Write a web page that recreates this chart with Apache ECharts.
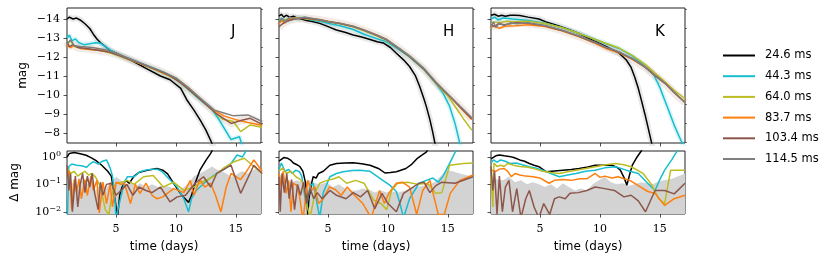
<!DOCTYPE html>
<html><head><meta charset="utf-8">
<script src="https://cdn.jsdelivr.net/npm/echarts@6/dist/echarts.min.js"></script>
<style>html,body{margin:0;padding:0;background:#fff}#c{width:831px;height:265px}</style>
</head><body><div id="c"></div>
<script>
// ---------- data ----------
const seriesNames = ['24.6 ms','44.3 ms','64.0 ms','83.7 ms','103.4 ms','114.5 ms'];
const panelLabels = ['J','H','K'];
const xTicks = [5,10,15];
const magTicks = [-14,-13,-12,-11,-10,-9,-8];
const magMinorTicks = [-14.5,-13.5,-12.5,-11.5,-10.5,-9.5,-8.5,-7.5];
const dTicks = [0.01,0.1,1];

// J band: magnitude vs time
const J_black = [[0.9,-14.0],[1.1,-14.1],[1.4,-14.0],[1.7,-14.05],[2.0,-13.95],[2.4,-13.75],[2.8,-13.5],[3.1,-13.2],[3.4,-12.95],[3.7,-12.75],[4.5,-12.35],[5.5,-12.05],[6.5,-11.75],[7.5,-11.4],[8.7,-11.0],[9.5,-10.8],[10.4,-10.35],[10.9,-9.75],[11.5,-9.2],[12.0,-8.7],[12.5,-8.15],[12.9,-7.6],[13.3,-7.0]];
const J_cyan = [[0.9,-13.0],[1.1,-13.15],[1.3,-12.85],[1.6,-12.95],[1.9,-12.75],[2.3,-12.65],[2.8,-12.7],[3.3,-12.75],[3.7,-12.72],[4.5,-12.37],[5,-12.18],[6,-11.92],[7,-11.67],[8,-11.42],[9,-11.15],[10,-10.82],[11,-10.3],[12,-9.75],[13,-9.25],[13.5,-8.8],[14.6,-7.65],[15.3,-7.8],[15.6,-7.2]];
const J_olive = [[0.9,-12.7],[1.2,-12.85],[1.5,-12.55],[2,-12.5],[3,-12.4],[4,-12.3],[5,-12.12],[6,-11.88],[7,-11.65],[8,-11.4],[9,-11.12],[10,-10.82],[11,-10.33],[12,-9.8],[13,-9.22],[13.9,-8.72],[14.8,-8.6],[15.4,-8.07],[16.2,-8.42],[17.2,-8.3]];
const J_orange = [[0.9,-12.6],[1.2,-12.5],[1.5,-12.6],[2,-12.45],[3,-12.38],[4,-12.35],[5,-12.15],[6,-11.9],[7,-11.66],[8,-11.42],[9,-11.15],[10,-10.85],[11,-10.35],[12,-9.8],[13,-9.25],[14,-8.9],[15,-8.7],[16,-8.55],[17.2,-8.4]];
const J_brown = [[0.9,-12.8],[1.1,-12.55],[1.4,-12.65],[1.8,-12.5],[2.5,-12.45],[3.5,-12.35],[4.5,-12.25],[5.5,-12.02],[6.5,-11.78],[7.5,-11.55],[8.5,-11.3],[9.5,-11.02],[10.5,-10.6],[11.5,-10.05],[12.5,-9.5],[13.4,-9.0],[14.6,-8.5],[15.4,-8.65],[16.2,-8.77],[17.2,-8.45]];
const J_grey = [[0.9,-12.7],[1.2,-12.9],[1.5,-12.6],[2,-12.55],[3,-12.5],[4,-12.4],[5,-12.2],[6,-11.95],[7,-11.7],[8,-11.45],[9,-11.2],[10,-10.9],[11,-10.42],[12,-9.85],[13.2,-9.2],[14,-9.05],[14.8,-8.9],[16,-8.95],[17.2,-8.6]];

// H band
const H_black = [[0.9,-14.15],[1.1,-14.25],[1.3,-14.1],[1.5,-14.2],[1.8,-14.1],[2.1,-14.15],[2.4,-14.05],[2.8,-14.0],[3.2,-13.92],[3.6,-13.88],[4.3,-13.77],[5.0,-13.6],[5.7,-13.42],[6.4,-13.3],[7.1,-13.16],[7.8,-13.05],[8.5,-12.92],[9.1,-12.8],[9.6,-12.74],[10.2,-12.5],[10.7,-12.2],[11.3,-11.85],[11.8,-11.5],[12.3,-11.0],[12.65,-10.45],[13.0,-9.8],[13.2,-9.4],[13.5,-8.7],[13.75,-8.0],[14.0,-7.2]];
const H_cyan = [[0.9,-13.95],[1.2,-14.0],[1.6,-13.9],[2.2,-14.05],[2.9,-14.05],[3.6,-13.95],[4.3,-13.88],[5.0,-13.78],[6.0,-13.65],[7.1,-13.45],[8.0,-13.2],[9.0,-12.98],[9.9,-12.8],[11.0,-12.35],[11.8,-12.0],[13.0,-11.35],[14.0,-10.6],[14.6,-10.1],[15.15,-9.4],[15.6,-8.5],[16.0,-7.45],[16.2,-7.0]];
const H_olive = [[0.9,-13.9],[1.3,-13.95],[1.8,-14.0],[2.5,-14.05],[3.3,-14.0],[4.3,-13.93],[5.0,-13.85],[6.0,-13.75],[7.1,-13.58],[8.0,-13.38],[9.0,-13.13],[9.9,-12.88],[11.0,-12.4],[11.8,-12.02],[13.0,-11.35],[14.0,-10.62],[15.0,-9.95],[15.7,-9.3],[16.3,-8.75],[17.0,-8.15]];
const H_orange = [[0.9,-13.75],[1.1,-13.9],[1.4,-13.8],[1.8,-14.0],[2.4,-14.05],[3.2,-14.05],[4.3,-13.97],[5.0,-13.88],[6.0,-13.78],[7.1,-13.62],[8.0,-13.42],[9.0,-13.17],[9.9,-12.92],[11.0,-12.42],[11.8,-12.05],[13.0,-11.38],[14.0,-10.65],[15.4,-9.76],[16.2,-9.22],[17.0,-8.7]];
const H_brown = [[0.9,-13.6],[1.2,-13.75],[1.6,-13.9],[2.2,-14.0],[3.0,-14.05],[4.3,-13.95],[5.0,-13.86],[6.0,-13.76],[7.1,-13.6],[8.0,-13.4],[9.0,-13.15],[9.9,-12.9],[11.0,-12.4],[11.8,-12.02],[13.0,-11.36],[14.0,-10.64],[15.4,-9.77],[16.2,-9.25],[17.0,-8.75]];
const H_grey = [[0.9,-13.8],[1.1,-14.05],[1.4,-13.85],[1.8,-14.1],[2.3,-14.0],[3.0,-14.1],[4.3,-13.96],[5.0,-13.87],[6.0,-13.77],[7.1,-13.62],[8.0,-13.42],[9.0,-13.17],[9.9,-12.92],[11.0,-12.43],[11.8,-12.06],[13.0,-11.4],[14.0,-10.68],[15.4,-9.8],[16.2,-9.3],[17.0,-8.8]];

// K band
const K_black = [[0.9,-14.2],[1.2,-14.25],[1.5,-14.15],[1.8,-14.2],[2.1,-14.15],[2.5,-14.2],[2.9,-14.2],[3.3,-14.18],[4.0,-14.1],[4.9,-14.0],[5.5,-13.85],[6.5,-13.65],[7.5,-13.42],[8.2,-13.25],[9.5,-12.85],[10.5,-12.55],[11.6,-12.2],[12.2,-11.84],[12.6,-11.45],[12.9,-10.95],[13.2,-10.35],[13.45,-9.74],[13.75,-9.0],[14.0,-8.33],[14.3,-7.5],[14.5,-7.0]];
const K_cyan = [[0.9,-14.0],[1.2,-14.1],[1.5,-13.95],[1.9,-14.05],[2.7,-14.0],[4.0,-13.92],[5.4,-13.78],[6.8,-13.55],[8.2,-13.25],[9.5,-12.95],[10.5,-12.7],[11.6,-12.45],[12.7,-12.05],[13.5,-11.65],[14.0,-11.35],[14.5,-11.05],[15.0,-10.4],[15.4,-9.74],[15.85,-9.0],[16.25,-8.33],[16.8,-7.55],[17.1,-7.2]];
const K_olive = [[0.9,-13.75],[1.2,-13.85],[1.6,-13.8],[2.2,-13.88],[2.7,-13.85],[4.0,-13.88],[5.4,-13.76],[6.8,-13.55],[8.2,-13.25],[9.5,-12.95],[10.5,-12.72],[11.6,-12.47],[12.7,-12.08],[13.8,-11.6],[14.6,-11.15],[15.45,-10.68],[16.2,-10.25],[17.1,-9.8]];
const K_orange = [[0.9,-13.55],[1.2,-13.65],[1.6,-13.5],[2.0,-13.62],[3.0,-13.65],[4.0,-13.7],[5.4,-13.6],[6.8,-13.38],[8.2,-13.08],[9.5,-12.75],[10.5,-12.45],[11.6,-12.22],[12.7,-11.88],[13.8,-11.45],[14.6,-11.02],[15.45,-10.6],[16.2,-10.13],[17.1,-9.62]];
const K_brown = [[0.9,-13.7],[1.2,-13.6],[1.5,-13.75],[2.0,-13.7],[3.0,-13.8],[4.0,-13.78],[5.4,-13.65],[6.8,-13.4],[8.2,-13.1],[9.5,-12.78],[10.5,-12.5],[11.6,-12.25],[12.7,-11.9],[13.8,-11.45],[14.6,-11.02],[15.45,-10.6],[16.2,-10.12],[17.1,-9.6]];
const K_grey = [[0.9,-13.6],[1.1,-13.85],[1.3,-13.55],[1.6,-13.8],[2.0,-13.65],[2.5,-13.8],[3.0,-13.75],[4.0,-13.8],[5.4,-13.66],[6.8,-13.42],[8.2,-13.12],[9.5,-12.8],[10.5,-12.52],[11.6,-12.27],[12.7,-11.92],[13.8,-11.48],[14.6,-11.05],[15.45,-10.62],[16.2,-10.15],[17.1,-9.6]];

// Delta mag (lower panels)
const dJ_black = [[0.9,1.0],[1.1,1.35],[1.5,1.45],[2.0,1.3],[2.5,1.15],[2.9,0.95],[3.3,0.75],[3.8,0.5],[4.3,0.3],[4.6,0.2],[4.8,0.06],[5.0,0.015],[5.1,0.005],[5.3,0.04],[5.5,0.08],[5.8,0.14],[6.1,0.11],[6.5,0.2],[6.9,0.27],[7.6,0.33],[8.4,0.38],[8.9,0.33],[9.3,0.24],[9.8,0.11],[10.2,0.06],[10.6,0.035],[11.05,0.022],[11.3,0.04],[11.6,0.11],[12.0,0.33],[12.5,0.75],[12.9,1.35],[13.2,2.5]];
const dJ_cyan = [[0.92,0.004],[1.05,0.45],[1.3,0.55],[1.7,0.5],[2.1,0.48],[2.55,0.42],[2.8,0.55],[3.1,0.68],[3.5,0.55],[3.8,0.68],[4.2,0.78],[4.5,0.4],[4.7,0.2],[4.9,0.03],[5.0,0.005],[5.2,0.015],[5.4,0.035],[5.7,0.12],[5.95,0.19],[6.5,0.19],[7.0,0.29],[7.6,0.34],[8.4,0.36],[8.8,0.3],[9.25,0.19],[9.7,0.12],[10.1,0.08],[10.65,0.03],[11.05,0.01],[11.3,0.03],[11.7,0.06],[12.0,0.08],[12.6,0.14],[13.4,0.25],[14.0,0.35],[14.6,0.58],[15.1,1.18],[15.55,1.0],[15.9,1.8]];
const dJ_olive = [[0.9,0.4],[1.2,0.25],[1.5,0.3],[1.8,0.2],[2.1,0.25],[2.4,0.3],[2.7,0.22],[3.0,0.25],[3.3,0.18],[3.6,0.1],[3.9,0.03],[4.1,0.012],[4.4,0.008],[4.6,0.03],[4.8,0.08],[5.0,0.11],[5.5,0.12],[5.95,0.14],[6.5,0.1],[7.3,0.19],[8.1,0.21],[8.95,0.08],[9.4,0.1],[9.8,0.12],[10.65,0.06],[11.1,0.07],[11.5,0.08],[12.0,0.11],[13.1,0.19],[14.0,0.4],[14.85,0.67],[15.7,0.9],[16.5,0.45],[17.2,0.25]];
const dJ_orange = [[0.9,0.2],[1.1,0.3],[1.3,0.012],[1.5,0.15],[1.7,0.05],[1.9,0.16],[2.1,0.03],[2.4,0.15],[2.6,0.04],[2.9,0.2],[3.1,0.06],[3.4,0.14],[3.6,0.009],[3.9,0.12],[4.2,0.02],[4.5,0.1],[4.7,0.015],[5.0,0.12],[5.4,0.1],[5.7,0.11],[6.2,0.02],[6.6,0.1],[7.0,0.047],[7.5,0.11],[8.0,0.04],[8.4,0.03],[8.9,0.035],[9.8,0.07],[10.65,0.05],[11.2,0.14],[11.5,0.04],[12.0,0.15],[12.4,0.08],[12.9,0.11],[13.3,0.04],[13.75,0.01],[14.2,0.08],[14.6,0.25],[15.4,0.15],[16.0,0.35],[16.5,0.78],[17.2,0.3]];
const dJ_brown = [[0.9,0.5],[1.05,0.06],[1.2,0.25],[1.35,0.01],[1.6,0.2],[1.8,0.015],[2.0,0.1],[2.2,0.25],[2.4,0.05],[2.6,0.2],[2.8,0.08],[3.0,0.25],[3.2,0.05],[3.5,0.012],[3.7,0.12],[3.9,0.04],[4.2,0.1],[4.6,0.11],[5.0,0.04],[5.4,0.06],[5.9,0.1],[6.4,0.04],[6.9,0.08],[7.5,0.06],[8.0,0.05],[8.7,0.08],[9.5,0.023],[10.1,0.035],[10.8,0.04],[11.6,0.11],[12.3,0.19],[12.9,0.08],[13.4,0.25],[14.0,0.35],[14.6,0.5],[15.4,0.047],[16.5,0.5],[17.2,0.25]];
const dJ_spread = [[0.9,0.25],[1.3,0.12],[1.7,0.08],[2.1,0.14],[2.5,0.1],[2.9,0.12],[3.3,0.06],[3.7,0.1],[4.1,0.06],[4.5,0.12],[5.0,0.19],[5.4,0.14],[5.8,0.1],[6.2,0.12],[6.6,0.08],[7.0,0.11],[7.5,0.08],[8.0,0.1],[8.5,0.08],[9.0,0.09],[9.5,0.08],[10.0,0.06],[10.5,0.07],[11.0,0.1],[11.5,0.2],[12.0,0.25],[12.5,0.33],[13.0,0.45],[13.4,0.35],[13.8,0.3],[14.2,0.25],[14.6,0.19],[15.0,0.22],[15.5,0.3],[16.0,0.25],[16.5,0.35],[17.2,0.4]];

const dH_black = [[0.9,0.7],[1.0,0.8],[1.3,0.95],[1.6,0.9],[1.9,0.75],[2.1,0.6],[2.4,0.52],[2.65,0.44],[2.9,0.3],[3.1,0.12],[3.2,0.06],[3.3,0.008],[3.4,0.03],[3.6,0.1],[3.75,0.19],[4.0,0.17],[4.2,0.25],[4.6,0.3],[5.15,0.5],[5.7,0.58],[6.4,0.6],[7.1,0.62],[7.8,0.57],[8.5,0.5],[9.2,0.38],[9.75,0.26],[10.2,0.27],[10.7,0.29],[11.5,0.38],[12.0,0.55],[12.4,0.85],[12.8,1.15],[13.2,1.5],[13.5,2.5]];
const dH_cyan = [[0.9,0.35],[1.1,0.6],[1.4,0.3],[1.7,0.35],[2.0,0.25],[2.3,0.33],[2.6,0.29],[2.8,0.2],[3.0,0.05],[3.2,0.015],[3.5,0.09],[3.75,0.11],[4.0,0.03],[4.3,0.006],[4.6,0.05],[5.15,0.19],[5.7,0.25],[6.25,0.29],[7.0,0.32],[7.65,0.33],[8.5,0.3],[9.3,0.17],[10.15,0.094],[10.7,0.055],[11.0,0.02],[11.3,0.006],[11.8,0.03],[12.6,0.11],[13.2,0.14],[13.75,0.17],[14.2,0.12],[14.6,0.2],[15.15,0.58],[15.7,1.8]];
const dH_olive = [[0.9,0.3],[1.2,0.4],[1.5,0.25],[1.9,0.3],[2.3,0.19],[2.7,0.15],[2.9,0.11],[3.2,0.02],[3.5,0.006],[3.9,0.05],[4.3,0.11],[4.9,0.14],[5.5,0.16],[5.9,0.19],[6.55,0.11],[7.3,0.14],[8.0,0.11],[8.8,0.027],[9.4,0.02],[9.9,0.012],[10.3,0.06],[10.8,0.11],[11.65,0.12],[12.5,0.1],[13.3,0.11],[14.0,0.047],[14.5,0.05],[15.15,0.5],[16.3,0.58],[17.1,0.6]];
const dH_orange = [[0.9,0.25],[1.1,0.08],[1.25,0.3],[1.5,0.047],[1.7,0.14],[1.9,0.01],[2.1,0.11],[2.4,0.09],[2.6,0.04],[2.9,0.005],[3.3,0.14],[3.6,0.06],[3.9,0.08],[4.2,0.02],[4.6,0.03],[5.1,0.08],[5.6,0.065],[6.1,0.04],[6.6,0.08],[7.2,0.04],[7.9,0.02],[8.6,0.006],[9.3,0.06],[9.7,0.02],[10.1,0.05],[10.7,0.11],[11.2,0.12],[11.8,0.08],[12.4,0.008],[12.9,0.06],[13.5,0.14],[14.2,0.008],[14.7,0.008],[15.2,0.047],[16.0,0.14],[17.1,0.22]];
const dH_brown = [[0.9,0.19],[1.0,0.01],[1.15,0.25],[1.35,0.05],[1.55,0.25],[1.75,0.03],[1.95,0.15],[2.2,0.012],[2.45,0.1],[2.7,0.04],[2.95,0.12],[3.2,0.02],[3.5,0.07],[3.8,0.03],[4.1,0.05],[4.5,0.03],[5.15,0.06],[5.7,0.04],[6.5,0.03],[7.1,0.05],[7.7,0.035],[8.3,0.06],[8.9,0.013],[9.5,0.047],[10.0,0.02],[10.7,0.01],[11.3,0.047],[12.1,0.08],[12.6,0.11],[13.0,0.12],[13.5,0.05],[14.0,0.09],[14.5,0.12],[15.6,0.11],[17.1,0.19]];
const dH_spread = [[0.9,0.25],[1.4,0.15],[1.9,0.12],[2.4,0.14],[2.9,0.12],[3.4,0.14],[3.9,0.11],[4.4,0.1],[4.9,0.12],[5.4,0.08],[5.9,0.1],[6.4,0.07],[6.9,0.06],[7.4,0.06],[7.9,0.07],[8.4,0.065],[8.9,0.05],[9.4,0.06],[9.9,0.05],[10.4,0.055],[10.9,0.05],[11.4,0.06],[11.9,0.07],[12.4,0.08],[12.9,0.09],[13.4,0.1],[13.9,0.12],[14.4,0.2],[14.9,0.33],[15.4,0.3],[16.0,0.25],[17.1,0.19]];

const dK_black = [[0.9,0.85],[1.05,0.9],[1.3,1.1],[1.6,1.18],[2.0,1.1],[2.4,1.05],[2.8,0.95],[3.3,0.78],[3.7,0.7],[4.1,0.58],[4.5,0.5],[4.9,0.44],[5.2,0.36],[5.5,0.29],[6.2,0.31],[6.9,0.33],[7.6,0.35],[8.25,0.38],[9.0,0.43],[9.6,0.5],[10.3,0.5],[11.0,0.5],[11.4,0.42],[11.7,0.33],[12.0,0.18],[12.25,0.094],[12.5,0.25],[12.7,0.5],[13.1,1.0],[13.5,1.8]];
const dK_cyan = [[0.9,0.6],[1.1,0.78],[1.4,0.65],[1.7,0.78],[2.1,0.7],[2.5,0.58],[3.0,0.6],[3.5,0.52],[4.1,0.44],[4.6,0.4],[5.2,0.33],[5.9,0.25],[6.6,0.19],[7.3,0.22],[8.0,0.25],[8.8,0.3],[9.6,0.33],[10.4,0.4],[11.3,0.44],[12.2,0.33],[13.2,0.25],[13.9,0.12],[14.6,0.06],[15.0,0.15],[15.4,0.33],[16.0,0.8],[16.5,1.8]];
const dK_olive = [[0.9,0.19],[1.05,0.015],[1.15,0.6],[1.4,0.45],[1.7,0.5],[2.0,0.45],[2.3,0.58],[2.8,0.5],[3.3,0.45],[4.0,0.42],[4.6,0.36],[5.2,0.3],[5.9,0.27],[6.6,0.25],[7.3,0.29],[8.0,0.33],[8.8,0.38],[9.6,0.44],[10.5,0.52],[11.3,0.58],[12.0,0.52],[12.6,0.44],[13.6,0.25],[14.3,0.1],[14.9,0.03],[15.4,0.02],[15.9,0.33],[17.1,0.33]];
const dK_orange = [[0.9,0.33],[1.3,0.3],[1.6,0.36],[2.0,0.38],[2.3,0.3],[2.6,0.19],[2.9,0.25],[3.3,0.22],[3.8,0.2],[4.4,0.19],[5.0,0.17],[5.75,0.11],[6.2,0.14],[6.9,0.15],[7.6,0.14],[8.3,0.16],[8.9,0.16],[9.6,0.25],[10.0,0.18],[10.4,0.2],[11.0,0.17],[11.5,0.19],[12.0,0.16],[12.5,0.14],[13.2,0.09],[14.0,0.055],[14.6,0.047],[15.4,0.017],[16.2,0.03],[17.1,0.04]];
const dK_brown = [[0.9,0.44],[1.05,0.06],[1.2,0.3],[1.4,0.008],[1.6,0.2],[1.85,0.01],[2.1,0.08],[2.4,0.14],[2.7,0.01],[3.05,0.07],[3.4,0.006],[3.8,0.03],[4.1,0.06],[4.5,0.015],[4.9,0.006],[5.3,0.02],[5.8,0.008],[6.2,0.03],[6.6,0.035],[7.1,0.03],[7.5,0.047],[8.2,0.05],[8.9,0.06],[9.6,0.08],[10.4,0.07],[11.2,0.06],[12.0,0.035],[12.6,0.04],[13.2,0.025],[13.8,0.01],[14.6,0.06],[15.4,0.06],[16.2,0.045],[17.1,0.11]];
const dK_spread = [[0.9,0.2],[1.4,0.15],[1.9,0.14],[2.4,0.19],[2.9,0.12],[3.4,0.14],[3.9,0.1],[4.4,0.12],[4.9,0.1],[5.4,0.08],[5.9,0.1],[6.4,0.07],[6.9,0.11],[7.4,0.08],[7.9,0.06],[8.4,0.07],[8.9,0.06],[9.4,0.1],[9.9,0.14],[10.4,0.19],[10.9,0.12],[11.4,0.1],[11.9,0.11],[12.4,0.09],[12.9,0.1],[13.4,0.12],[13.9,0.11],[14.4,0.1],[14.9,0.13],[15.4,0.14],[16.0,0.16],[17.1,0.25]];

// ---------- build ----------
const colors = ['#000000','#17becf','#bcbd22','#ff7f0e','#8c564b','#7f7f7f'];
const magData = [
  [J_black,J_cyan,J_olive,J_orange,J_brown,J_grey],
  [H_black,H_cyan,H_olive,H_orange,H_brown,H_grey],
  [K_black,K_cyan,K_olive,K_orange,K_brown,K_grey]];
const dData = [
  [dJ_black,dJ_cyan,dJ_olive,dJ_orange,dJ_brown],
  [dH_black,dH_cyan,dH_olive,dH_orange,dH_brown],
  [dK_black,dK_cyan,dK_olive,dK_orange,dK_brown]];
const spreads = [dJ_spread,dH_spread,dK_spread];

const X_MIN = 0.9, X_MAX = 17.1;
const lefts = [67, 279, 491], W = 194;
const FR = '#222';
const serif = 'DejaVu Serif', sans = 'DejaVu Sans';

const grid = [], xAxis = [], yAxis = [], series = [];
for (let p = 0; p < 3; p++) {
  grid.push({left: lefts[p], width: W, top: 8, height: 135, show: true, borderColor: FR, borderWidth: 1});
}
for (let p = 0; p < 3; p++) {
  grid.push({left: lefts[p], width: W, top: 151, height: 63, show: true, borderColor: FR, borderWidth: 1});
}
for (let g = 0; g < 6; g++) {
  const bottom = g >= 3;
  xAxis.push({
    type: 'value', gridIndex: g, min: X_MIN, max: X_MAX,
    axisLine: {show: false}, splitLine: {show: false},
    axisTick: {show: true, customValues: xTicks, length: 3.5, lineStyle: {color: FR, width: 0.8}},
    axisLabel: {show: bottom, customValues: xTicks, fontFamily: serif, fontSize: 11, color: '#000', margin: 10},
    name: bottom ? 'time (days)' : '', nameLocation: 'middle', nameGap: 27,
    nameTextStyle: {fontFamily: sans, fontSize: 12, color: '#000'}
  });
}
const supFmt = v => {
  const e = Math.round(Math.log10(v));
  return '10{s|' + (e < 0 ? '\u2212' + (-e) : String(e)) + '}';
};
for (let g = 0; g < 6; g++) {
  const bottom = g >= 3, first = (g % 3) === 0;
  if (!bottom) {
    yAxis.push({
      type: 'value', gridIndex: g, min: -14.58, max: -7.47, inverse: true,
      axisLine: {show: false}, splitLine: {show: false},
      axisTick: {show: true, customValues: magTicks, length: 3.5, lineStyle: {color: FR, width: 0.8}},
      axisLabel: {show: first, customValues: magTicks, fontFamily: serif, fontSize: 11, color: '#000', margin: 7,
        formatter: v => (v < 0 ? '\u2212' + (-v) : String(v))},
      name: first ? 'mag' : '', nameLocation: 'middle', nameGap: 38,
      nameTextStyle: {fontFamily: sans, fontSize: 12, color: '#000'}
    });
  } else {
    yAxis.push({
      type: 'log', gridIndex: g, min: 0.0083, max: 1.65, logBase: 10,
      axisLine: {show: false}, splitLine: {show: false},
      axisTick: {show: true, customValues: dTicks, length: 3.5, lineStyle: {color: FR, width: 0.8}},
      axisLabel: {show: first, customValues: dTicks, fontFamily: serif, fontSize: 11, color: '#000', margin: 6,
        formatter: supFmt,
        rich: {s: {fontFamily: serif, fontSize: 8, verticalAlign: 'top', padding: [0, 0, 6, 0], color: '#000'}}},
      name: first ? '\u0394 mag' : '', nameLocation: 'middle', nameGap: 46,
      nameTextStyle: {fontFamily: sans, fontSize: 12, color: '#000'}
    });
  }
}
// minor ticks for the magnitude axes
for (let p = 0; p < 3; p++) {
  yAxis.push({
    type: 'value', gridIndex: p, min: -14.58, max: -7.47, inverse: true,
    axisLine: {show: false}, splitLine: {show: false}, axisLabel: {show: false},
    axisTick: {show: true, customValues: magMinorTicks, length: 2, lineStyle: {color: FR, width: 0.6}}
  });
}

const base = {type: 'line', symbol: 'none', showSymbol: false, animation: false, silent: true, clip: true};
for (let p = 0; p < 3; p++) {
  const d = magData[p];
  // faint spread bands
  series.push(Object.assign({}, base, {name: 'band-k' + p, xAxisIndex: p, yAxisIndex: p, data: d[0], z: 1,
    lineStyle: {color: '#9a9a9a', width: 6, opacity: 0.22}}));
  series.push(Object.assign({}, base, {name: 'band-b' + p, xAxisIndex: p, yAxisIndex: p, data: d[4], z: 1,
    lineStyle: {color: '#c09a7c', width: 8, opacity: 0.2}}));
  series.push(Object.assign({}, base, {name: 'band-c' + p, xAxisIndex: p, yAxisIndex: p, data: d[1], z: 1,
    lineStyle: {color: '#17becf', width: 5, opacity: 0.14}}));
  for (let s = 0; s < 6; s++) {
    series.push(Object.assign({}, base, {name: seriesNames[s], xAxisIndex: p, yAxisIndex: p, data: d[s], z: 2 + s,
      lineStyle: {color: colors[s], width: 1.5}, itemStyle: {color: colors[s]}}));
  }
}
for (let p = 0; p < 3; p++) {
  const g = p + 3;
  series.push(Object.assign({}, base, {name: 'spread' + p, xAxisIndex: g, yAxisIndex: g, data: spreads[p], z: 1,
    lineStyle: {width: 0, color: '#d3d3d3'}, areaStyle: {color: '#d3d3d3', opacity: 1, origin: 'start'}}));
  for (let s = 0; s < 5; s++) {
    series.push(Object.assign({}, base, {name: seriesNames[s], xAxisIndex: g, yAxisIndex: g, data: dData[p][s], z: 2 + s,
      lineStyle: {color: colors[s], width: 1.5}, itemStyle: {color: colors[s]}}));
  }
}

const chart = echarts.init(document.getElementById('c'), null, {renderer: 'canvas'});
chart.setOption({
  animation: false,
  backgroundColor: '#fff',
  grid, xAxis, yAxis, series,
  title: panelLabels.map((t, i) => ({text: t, left: lefts[i] + W - 35, top: 20,
    textStyle: {fontFamily: sans, fontSize: 15, fontWeight: 'normal', color: '#000'}})),
  legend: {
    data: seriesNames.map((n, i) => ({name: n, icon: 'rect', itemStyle: {color: colors[i], borderWidth: 0}})),
    orient: 'vertical', left: 718, top: 43.5, itemWidth: 32, itemHeight: 2, itemGap: 6.7,
    selectedMode: false,
    textStyle: {fontFamily: sans, fontSize: 11.5, lineHeight: 14, color: '#000', padding: [0, 0, 0, 5]}
  }
});
</script></body></html>
